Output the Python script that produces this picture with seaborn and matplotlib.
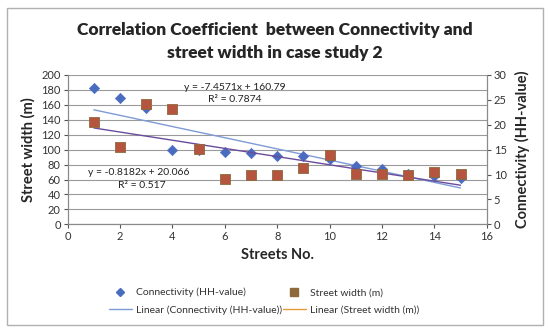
import numpy as np
import pandas as pd
import matplotlib
matplotlib.use("Agg")
import matplotlib.pyplot as plt
import seaborn as sns
from matplotlib.lines import Line2D
from matplotlib.patches import Rectangle

# data
streets = [1, 2, 3, 4, 5, 6, 7, 8, 9, 10, 11, 12, 13, 14, 15]
connectivity = [182, 169, 155, 99, 100, 97, 95, 92, 91, 88, 78, 74, 68, 65, 61.5]
street_width = [20.5, 15.6, 24.1, 23.2, 15.2, 9.1, 10.0, 10.0, 11.4, 14.0, 10.1, 10.1, 10.0, 10.5, 10.2]

df = pd.DataFrame({"Streets": streets, "Connectivity": connectivity, "Width": street_width})

sns.set_theme(style="white")
plt.rcParams["font.family"] = ["Lato", "DejaVu Sans"]

blue = "#4a6cc0"
red = "#b5553f"
blue_line = "#7f9bd6"
red_line = "#6a4c9c"

fig = plt.figure(figsize=(5.5, 3.31), dpi=100)
ax = fig.add_axes([0.123, 0.322, 0.762, 0.452])
ax2 = ax.twinx()

# points
sns.scatterplot(data=df, x="Streets", y="Connectivity", ax=ax, marker="D", s=28,
                color=blue, edgecolor=blue, zorder=3)
sns.scatterplot(data=df, x="Streets", y="Width", ax=ax2, marker="s", s=55,
                color=red, edgecolor="#8c6a3c", linewidth=0.6, zorder=3)

# linear trend lines
sns.regplot(data=df, x="Streets", y="Connectivity", ax=ax, scatter=False, ci=None,
            color=blue_line, line_kws={"lw": 1})
sns.regplot(data=df, x="Streets", y="Width", ax=ax2, scatter=False, ci=None,
            color=red_line, line_kws={"lw": 1})

ax.set_xlim(0, 16)
ax.set_ylim(0, 200)
ax2.set_ylim(0, 30)
ax.set_xticks(range(0, 17, 2))
ax.set_yticks(range(0, 201, 20))
ax2.set_yticks(range(0, 31, 5))

ax.yaxis.grid(True, color="#9a9a9a", lw=0.8)
ax.set_axisbelow(True)
for a in (ax, ax2):
    for side in ("left", "right", "bottom"):
        a.spines[side].set_color("#8a8a8a")
        a.spines[side].set_linewidth(0.8)
    a.spines["top"].set_visible(False)
    a.tick_params(axis="both", labelsize=8, colors="#555555", length=3, width=0.8,
                  direction="out", pad=2)
    a.tick_params(labelcolor="#333333")
ax.tick_params(left=True, bottom=True)
ax2.tick_params(right=True)

ax.set_xlabel("Streets No.", fontsize=10.5, fontweight="bold", labelpad=4)
ax.set_ylabel("Street width (m)", fontsize=10.5, fontweight="bold", labelpad=4)
ax2.set_ylabel("Connectivity (HH-value)", fontsize=10.5, fontweight="bold", labelpad=6)

fig.text(0.5, 0.875, "Correlation Coefficient  between Connectivity and\nstreet width in case study 2",
         ha="center", va="center", fontsize=12.5, fontweight="heavy", linespacing=1.5)

# trend line equations
eq_kw = dict(transform=fig.transFigure, fontsize=7.5, ha="center", va="center", color="#222222")
fig.text(0.427, 0.737, "y = -7.4571x + 160.79", **eq_kw)
fig.text(0.426, 0.698, "R² = 0.7874", **eq_kw)
fig.text(0.252, 0.478, "y = -0.8182x + 20.066", **eq_kw)
fig.text(0.257, 0.439, "R² = 0.517", **eq_kw)

handles = [
    Line2D([], [], marker="D", ls="", color=blue, markersize=4),
    Line2D([], [], color=blue_line, lw=1),
    Line2D([], [], marker="s", ls="", color="#8c6a3c", markersize=6),
    Line2D([], [], color="#e69a3c", lw=1),
]
labels = ["Connectivity (HH-value)", "Linear (Connectivity (HH-value))",
          "Street width (m)", "Linear (Street width (m))"]
fig.legend(handles, labels, ncol=2, loc="center", bbox_to_anchor=(0.48, 0.09),
           frameon=False, fontsize=7.5, handlelength=2.2, columnspacing=0.1,
           handletextpad=0.4, labelspacing=0.75, labelcolor="#333333")

fig.patches.append(Rectangle((0.013, 0.018), 0.974, 0.958, transform=fig.transFigure,
                             fill=False, edgecolor="#b0b0b0", lw=1))

fig.savefig("out.png", dpi=100)
